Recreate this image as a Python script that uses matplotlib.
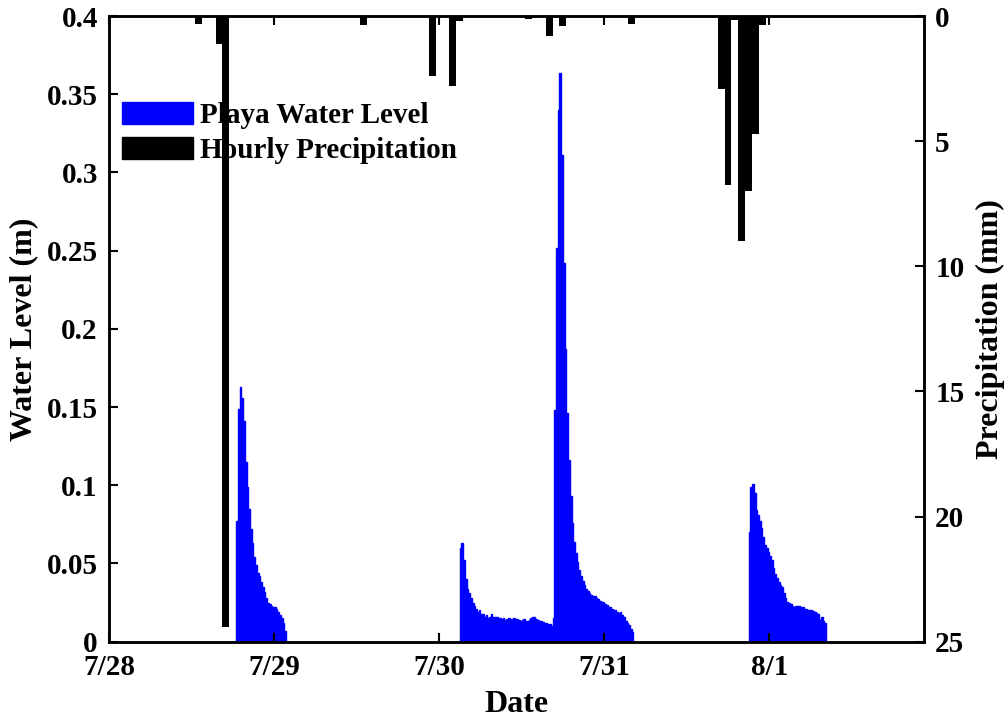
import matplotlib.pyplot as plt
import pandas as pd
from matplotlib.patches import Patch

plt.rcParams['font.family'] = ['Liberation Serif', 'DejaVu Serif']
plt.rcParams['font.weight'] = 'bold'

# Playa water level, 15-minute readings (m), one list per event
level_1_start = '2021-07-28 18:30'
level_1 = [0.077, 0.149, 0.163, 0.156, 0.141, 0.115, 0.099, 0.085, 0.072, 0.063,
           0.054, 0.049, 0.044, 0.042, 0.038, 0.035, 0.032, 0.028, 0.025, 0.024,
           0.023, 0.022, 0.022, 0.021, 0.019, 0.017, 0.015, 0.012, 0.007]

level_2_start = '2021-07-30 03:00'
level_2 = [0.060, 0.063, 0.052, 0.040, 0.034, 0.031, 0.028, 0.025, 0.023, 0.021,
           0.019, 0.020, 0.0175, 0.018, 0.016, 0.017, 0.015, 0.016, 0.0175, 0.016,
           0.0155, 0.016, 0.014, 0.015, 0.0145, 0.015, 0.014, 0.0145, 0.015, 0.014,
           0.0145, 0.015, 0.014, 0.0145, 0.014, 0.0135, 0.014, 0.0145, 0.0135, 0.013,
           0.014, 0.015, 0.016, 0.0155, 0.0145, 0.014, 0.0135, 0.013, 0.0125, 0.012,
           0.012, 0.0115, 0.011, 0.010, 0.015, 0.148, 0.252, 0.340, 0.3635, 0.311,
           0.242, 0.187, 0.146, 0.116, 0.093, 0.076, 0.064, 0.057, 0.051, 0.046,
           0.042, 0.0386, 0.036, 0.034, 0.0326, 0.031, 0.030, 0.029, 0.029, 0.0277,
           0.0275, 0.026, 0.0253, 0.0253, 0.024, 0.0235, 0.0224, 0.022, 0.021, 0.0205,
           0.020, 0.0193, 0.0186, 0.019, 0.0169, 0.0157, 0.0133, 0.012, 0.0109, 0.0084,
           0.006]

level_3_start = '2021-07-31 21:00'
level_3 = [0.070, 0.099, 0.101, 0.095, 0.084, 0.081, 0.077, 0.0725, 0.067, 0.062,
           0.060, 0.0575, 0.0545, 0.052, 0.047, 0.043, 0.0405, 0.038, 0.036, 0.035,
           0.031, 0.028, 0.0255, 0.025, 0.024, 0.0225, 0.022, 0.023, 0.0225, 0.0225,
           0.022, 0.022, 0.021, 0.0207, 0.0203, 0.0205, 0.0203, 0.0198, 0.0192, 0.0186,
           0.0177, 0.014, 0.016, 0.0134, 0.0117]

# Hourly precipitation (mm)
precip_time = ['2021-07-28 13:00', '2021-07-28 16:00', '2021-07-28 17:00',
               '2021-07-29 13:00', '2021-07-29 23:00', '2021-07-30 02:00',
               '2021-07-30 03:00', '2021-07-30 13:00', '2021-07-30 16:00',
               '2021-07-30 18:00', '2021-07-31 04:00', '2021-07-31 17:00',
               '2021-07-31 18:00', '2021-07-31 19:00', '2021-07-31 20:00',
               '2021-07-31 21:00', '2021-07-31 22:00', '2021-07-31 23:00']
precip_mm = [0.3, 1.1, 24.4, 0.35, 2.4, 2.8, 0.2, 0.12, 0.8, 0.4, 0.3,
             2.9, 6.75, 0.15, 9.0, 7.0, 4.7, 0.35]

date_ticks = ['2021-07-28', '2021-07-29', '2021-07-30', '2021-07-31', '2021-08-01']
date_labels = ['7/28', '7/29', '7/30', '7/31', '8/1']
level_ticks = [0, 0.05, 0.1, 0.15, 0.2, 0.25, 0.3, 0.35, 0.4]
level_labels = ['0', '0.05', '0.1', '0.15', '0.2', '0.25', '0.3', '0.35', '0.4']
precip_ticks = [0, 5, 10, 15, 20, 25]

fs = 21
fs_label = 23

fig = plt.figure(figsize=(10.08, 7.21), dpi=100)
ax1 = fig.add_axes([0.1081, 0.1100, 0.8086, 0.8678])
ax2 = ax1.twinx()

# water level bars
for t0, vals in [(level_1_start, level_1), (level_2_start, level_2), (level_3_start, level_3)]:
    t = pd.date_range(t0, periods=len(vals), freq='15min')
    ax1.bar(t, vals, width=1 / 96, align='edge', color='blue', edgecolor='blue', linewidth=1.0)

# precipitation bars hanging from the top
ax2.bar(pd.to_datetime(precip_time), precip_mm, width=1 / 24, color='black', linewidth=0)

ax1.set_xlim(pd.Timestamp('2021-07-28'), pd.Timestamp('2021-08-01 22:30'))
ax1.set_ylim(0, 0.4)
ax2.set_ylim(25, 0)

ax1.set_xticks(pd.to_datetime(date_ticks))
ax1.set_xticklabels(date_labels)
ax1.set_yticks(level_ticks)
ax1.set_yticklabels(level_labels)
ax2.set_yticks(precip_ticks)

ax1.tick_params(axis='both', direction='in', length=6.5, width=1.5, labelsize=fs, pad=8)
ax1.tick_params(axis='x', top=True, pad=9)
ax2.tick_params(axis='y', direction='in', length=6.5, width=1.5, labelsize=fs, pad=8)
for ax in (ax1, ax2):
    for s in ax.spines.values():
        s.set_linewidth(1.8)

ax1.set_xlabel('Date', fontsize=fs_label, fontweight='bold', labelpad=6)
ax1.set_ylabel('Water Level (m)', fontsize=fs_label, fontweight='bold', labelpad=6)
ax2.set_ylabel('Precipitation (mm)', fontsize=fs_label, fontweight='bold', labelpad=8)

handles = [Patch(facecolor='blue', edgecolor='blue'), Patch(facecolor='black', edgecolor='black')]
ax1.legend(handles, ['Playa Water Level', 'Hourly Precipitation'], loc='upper left',
           bbox_to_anchor=(0.016, 0.863), frameon=False, fontsize=fs, borderpad=0,
           borderaxespad=0, handlelength=2.43, handleheight=0.82, handletextpad=0.25,
           labelspacing=0.26)

fig.savefig('out.png', dpi=100)
